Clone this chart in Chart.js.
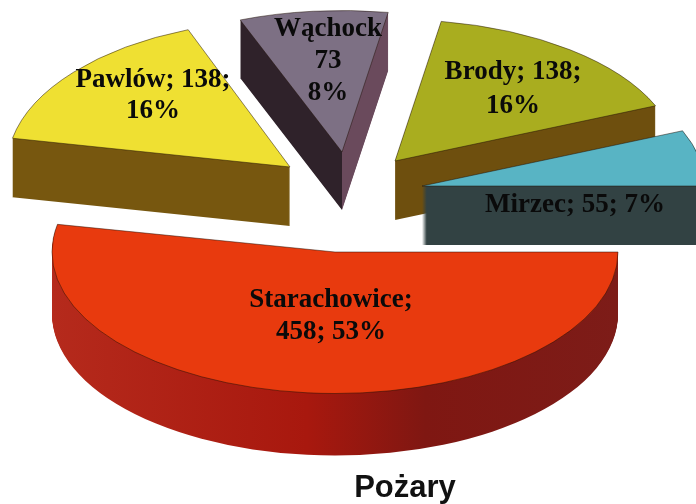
<!DOCTYPE html>
<html lang="pl">
<head>
<meta charset="utf-8">
<title>Pożary</title>
<script src="https://cdn.jsdelivr.net/npm/chart.js@4"></script>
<style>
html,body{margin:0;padding:0;background:#fff}
#wrap{position:relative;width:696px;height:504px;overflow:hidden}
canvas{display:block;filter:blur(0.45px)}
</style>
</head>
<body>
<div id="wrap"><canvas id="c" width="696" height="504"></canvas></div>
<script>
const categories = ["Starachowice", "Pawlów", "Wąchock", "Brody", "Mirzec"];
const values = [458, 138, 73, 138, 55];
const percents = [53, 16, 8, 16, 7];
const chartTitle = "Pożary";

const topColors = ["#e83a0e", "#efe032", "#7d7084", "#a9ad1f", "#58b4c4"];
const sideStops = [
  [[0,"#b52a1c"],[0.45,"#a8180e"],[0.66,"#7f1712"],[1,"#7d1c18"]],
  [[0,"#77570f"],[1,"#77570f"]],
  [[0,"#2f222a"],[0.5,"#2f222a"],[0.5,"#6a4a5c"],[1,"#6a4a5c"]],
  [[0,"#6e4f0e"],[1,"#6e4f0e"]],
  [[0,"#324243"],[1,"#324243"]]
];
const centerX = [335, 290, 342, 395, 422];
const centerY = [252, 167, 152, 161, 186];
const squash = [0.5, 0.52, 0.5, 0.5, 0.5];
const depth = [62, 59, 58, 59, 59];
const drawOrder = [1, 2, 3, 4, 0];
const pieRadius = 283;

const labelLines = [
  [categories[0] + ";", values[0] + "; " + percents[0] + "%"],
  [categories[1] + "; " + values[1] + ";", percents[1] + "%"],
  [categories[2], String(values[2]), percents[2] + "%"],
  [categories[3] + "; " + values[3] + ";", percents[3] + "%"],
  [categories[4] + "; " + values[4] + "; " + percents[4] + "%"]
];
const labelX = [331, 153, 328, 513, 575];
const labelY = [300, 80, 29, 72, 205];
const labelStep = [32, 31, 32, 34, 32];

const pie3d = {
  id: "pie3d",
  beforeDatasetsDraw(chart) {
    const ctx = chart.ctx;
    const arcs = chart.getDatasetMeta(0).data;
    drawOrder.forEach(i => {
      const arc = arcs[i];
      const place = dy => {
        ctx.translate(centerX[i], centerY[i] + dy);
        ctx.scale(1, squash[i]);
        ctx.translate(-arc.x, -arc.y);
      };
      const grad = ctx.createLinearGradient(arc.x - pieRadius, 0, arc.x + pieRadius, 0);
      sideStops[i].forEach(s => grad.addColorStop(s[0], s[1]));
      const side = new Chart.ArcElement({
        x: arc.x, y: arc.y, startAngle: arc.startAngle, endAngle: arc.endAngle,
        innerRadius: arc.innerRadius, outerRadius: arc.outerRadius,
        circumference: arc.circumference, fullCircles: arc.fullCircles,
        options: Object.assign({}, arc.options, {backgroundColor: grad, borderWidth: 0})
      });
      for (let d = depth[i]; d >= 1; d--) {
        ctx.save();
        place(d);
        side.draw(ctx);
        ctx.restore();
      }
      ctx.save();
      place(0);
      arc.draw(ctx);
      ctx.restore();
    });
    return false;
  },
  afterDraw(chart) {
    const ctx = chart.ctx;
    ctx.save();
    ctx.font = 'bold 27px "Liberation Serif"';
    ctx.fillStyle = "#0a0a0a";
    ctx.textAlign = "center";
    ctx.textBaseline = "middle";
    labelLines.forEach((lines, i) => {
      lines.forEach((t, j) => ctx.fillText(t, labelX[i], labelY[i] + j * labelStep[i]));
    });
    ctx.restore();
  }
};

new Chart(document.getElementById("c"), {
  type: "pie",
  data: {
    labels: categories,
    datasets: [{
      data: values,
      backgroundColor: topColors,
      borderColor: "rgba(30,15,5,0.65)",
      borderWidth: 1,
      radius: pieRadius
    }]
  },
  options: {
    responsive: false,
    animation: false,
    rotation: 90,
    layout: {padding: {left: 114, bottom: 0}},
    plugins: {
      legend: {display: false},
      tooltip: {enabled: false},
      title: {
        display: true,
        text: chartTitle,
        position: "bottom",
        color: "#111",
        font: {family: '"Liberation Sans"', size: 31, weight: "bold"},
        padding: {top: 0, bottom: -3}
      }
    }
  },
  plugins: [pie3d]
});
</script>
</body>
</html>
